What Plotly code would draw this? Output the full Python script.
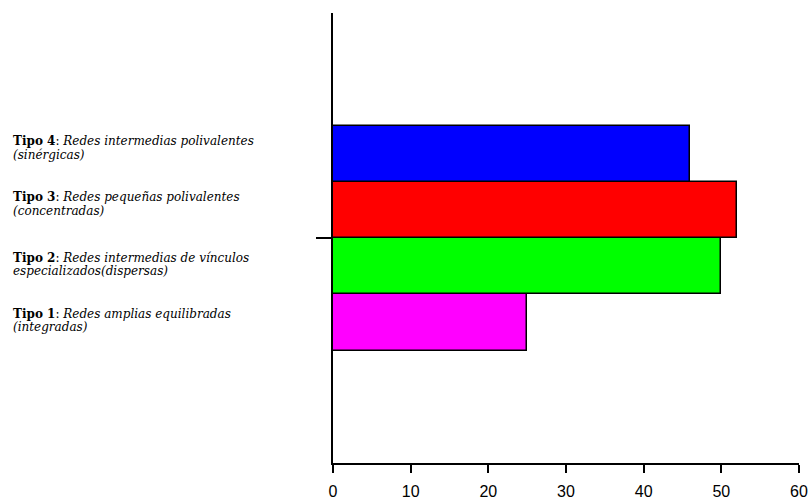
import plotly.graph_objects as go

categories = ["Tipo 1", "Tipo 2", "Tipo 3", "Tipo 4"]
line1 = ["<b>Tipo 1</b>: <i>Redes amplias equilibradas</i>",
         "<b>Tipo 2</b>: <i>Redes intermedias de vínculos</i>",
         "<b>Tipo 3</b>: <i>Redes pequeñas polivalentes</i>",
         "<b>Tipo 4</b>: <i>Redes intermedias polivalentes</i>"]
line2 = ["<i>(integradas)</i>",
         "<i>especializados(dispersas)</i>",
         "<i>(concentradas)</i>",
         "<i>(sinérgicas)</i>"]
values = [25, 50, 52, 46]
colors = ["#ff00ff", "#00ff00", "#ff0000", "#0000ff"]
positions = [2.5, 3.5, 4.5, 5.5]
label_y = [2.53, 3.53, 4.6, 5.6]
x_ticks = [0, 10, 20, 30, 40, 50, 60]

fig = go.Figure()
fig.add_trace(go.Bar(
    x=values, y=positions, orientation="h", width=1,
    marker=dict(color=colors, line=dict(color="black", width=1.5)),
    showlegend=False, hoverinfo="x",
))

W, L, R = 810, 333, 11
plot_w = W - L - R
xpaper = (12 - L) / plot_w
for p, a, b in zip(label_y, line1, line2):
    fig.add_annotation(x=xpaper, y=p, xref="paper", yref="y", text=a,
                       showarrow=False, xanchor="left", yanchor="middle",
                       yshift=6.8, align="left", borderpad=0,
                       font=dict(family="DejaVu Serif", size=12, color="black"))
    fig.add_annotation(x=xpaper, y=p, xref="paper", yref="y", text=b,
                       showarrow=False, xanchor="left", yanchor="middle",
                       yshift=-6.8, align="left", borderpad=0,
                       font=dict(family="DejaVu Serif", size=12, color="black"))

fig.update_layout(
    width=810, height=499, autosize=False,
    margin=dict(l=L, r=R, t=13, b=36, autoexpand=False),
    plot_bgcolor="white", paper_bgcolor="white",
    bargap=0,
)
fig.update_xaxes(range=[0, 60], tickvals=x_ticks, showline=True, linecolor="black",
                 linewidth=1.5, ticks="outside", ticklen=8, tickwidth=1.5,
                 tickcolor="black", showgrid=False, zeroline=False,
                 ticklabelstandoff=5, automargin=False,
                 tickfont=dict(family="Liberation Sans", size=16, color="black"))
fig.update_yaxes(range=[0, 8], tickvals=[4], ticktext=[""], showline=True,
                 linecolor="black", linewidth=1.5, ticks="outside", ticklen=15,
                 tickwidth=1.5, tickcolor="black", showgrid=False, zeroline=False,
                 automargin=False)

fig.write_html("out.html",
               config={"responsive": False, "displayModeBar": False},
               post_script="document.body.style.margin='0';document.body.style.overflow='hidden';")
